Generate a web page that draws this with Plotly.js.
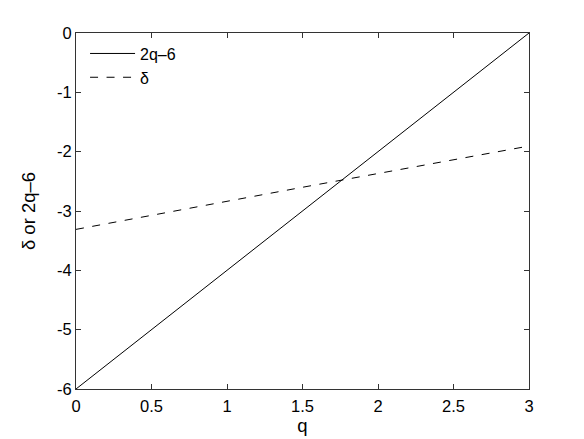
<!DOCTYPE html>
<html>
<head>
<meta charset="utf-8">
<script src="https://cdn.plot.ly/plotly-3.0.1.min.js"></script>
<style>html,body{margin:0;padding:0;background:#fff;}</style>
</head>
<body>
<div id="chart" style="width:584px;height:439px;"></div>
<script>
const qLine = [0, 1.5, 3];
const lineVals = [-6, -3, 0];
const qDelta = [0, 1.5, 3];
const deltaVals = [-3.31, -2.6, -1.905];
const xTicks = [0, 0.5, 1, 1.5, 2, 2.5, 3];
const xTickText = ['0', '0.5', '1', '1.5', '2', '2.5', '3'];
const yTicks = [-6, -5, -4, -3, -2, -1, 0];
const yTickText = ['-6', '-5', '-4', '-3', '-2', '-1', '0'];

const font = 'Liberation Sans, Arial, Helvetica, sans-serif';

const traces = [
  {x: qLine, y: lineVals, mode: 'lines', name: '2q–6',
   line: {color: '#000', width: 1}},
  {x: qDelta, y: deltaVals, mode: 'lines', name: 'δ',
   line: {color: '#000', width: 1, dash: '8px,8.5px'}}
];

const axisCommon = {
  showgrid: false, zeroline: false, showline: true, linecolor: '#333', linewidth: 1,
  mirror: 'ticks', ticks: 'inside', ticklen: 5, tickcolor: '#333',
  tickfont: {family: font, size: 16.5, color: '#000'}
};

const layout = {
  width: 584, height: 439,
  margin: {l: 76, r: 55, t: 33, b: 50},
  paper_bgcolor: '#fff', plot_bgcolor: '#fff',
  showlegend: true,
  legend: {x: 0.02, y: 0.99, xanchor: 'left', yanchor: 'top', bgcolor: 'rgba(0,0,0,0)',
    itemwidth: 45,
    font: {family: font, size: 16, color: '#000'}, tracegroupgap: 0},
  xaxis: Object.assign({}, axisCommon, {range: [0, 3], tickvals: xTicks, ticktext: xTickText,
    ticklabelstandoff: 2,
    title: {text: 'q', font: {family: font, size: 18.5, color: '#000'}, standoff: 3}}),
  yaxis: Object.assign({}, axisCommon, {range: [-6, 0], tickvals: yTicks, ticktext: yTickText,
    title: {text: 'δ or 2q–6', font: {family: font, size: 18.5, color: '#000'}, standoff: 16}})
};

Plotly.newPlot('chart', traces, layout, {displayModeBar: false, staticPlot: true});
</script>
</body>
</html>
